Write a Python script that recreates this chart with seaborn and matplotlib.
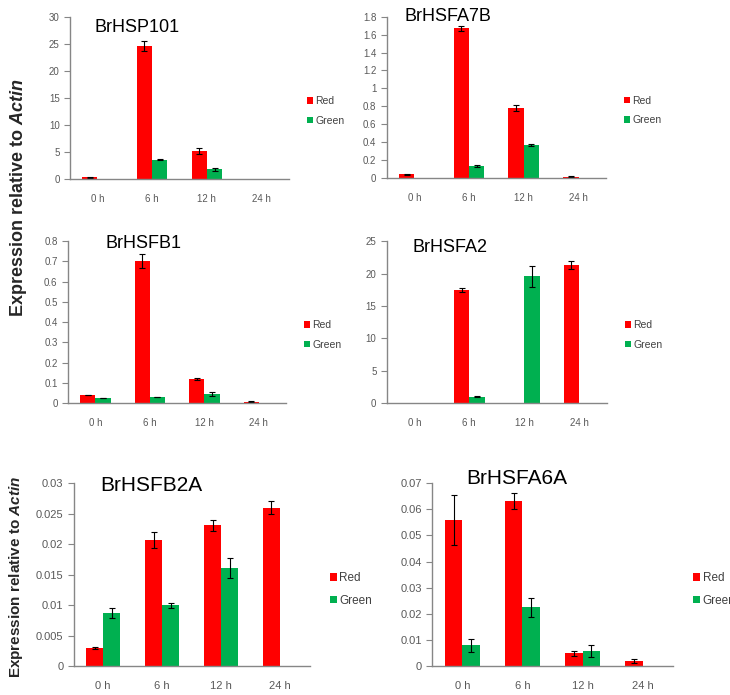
import numpy as np
import pandas as pd
import matplotlib
matplotlib.use("Agg")
import matplotlib.pyplot as plt
from matplotlib.ticker import FuncFormatter, MultipleLocator
import seaborn as sns

# ---------------- data ----------------
times = ["0 h", "6 h", "12 h", "24 h"]
series = ["Red", "Green"]

hsp101_red = [0.3, 24.7, 5.2, 0.0]
hsp101_red_err = [0.05, 0.9, 0.5, 0.0]
hsp101_green = [0.0, 3.6, 1.8, 0.0]
hsp101_green_err = [0.0, 0.1, 0.3, 0.0]

hsfa7b_red = [0.04, 1.67, 0.78, 0.015]
hsfa7b_red_err = [0.003, 0.03, 0.03, 0.004]
hsfa7b_green = [0.0, 0.13, 0.37, 0.0]
hsfa7b_green_err = [0.0, 0.012, 0.01, 0.0]

hsfb1_red = [0.04, 0.70, 0.12, 0.007]
hsfb1_red_err = [0.002, 0.035, 0.006, 0.003]
hsfb1_green = [0.025, 0.03, 0.045, 0.0]
hsfb1_green_err = [0.001, 0.002, 0.01, 0.0]

hsfa2_red = [0.05, 17.5, 0.05, 21.3]
hsfa2_red_err = [0.0, 0.3, 0.0, 0.6]
hsfa2_green = [0.05, 1.0, 19.6, 0.0]
hsfa2_green_err = [0.0, 0.05, 1.6, 0.0]

hsfb2a_red = [0.003, 0.0207, 0.0231, 0.026]
hsfb2a_red_err = [0.0002, 0.0013, 0.0009, 0.0011]
hsfb2a_green = [0.0087, 0.0100, 0.0161, 0.0]
hsfb2a_green_err = [0.0008, 0.0004, 0.0017, 0.0]

hsfa6a_red = [0.056, 0.0633, 0.0048, 0.002]
hsfa6a_red_err = [0.0095, 0.003, 0.0008, 0.0008]
hsfa6a_green = [0.008, 0.0225, 0.0058, 0.0]
hsfa6a_green_err = [0.0025, 0.0037, 0.0022, 0.0]

genes = ["BrHSP101", "BrHSFA7B", "BrHSFB1", "BrHSFA2", "BrHSFB2A", "BrHSFA6A"]
y_max = [30, 1.8, 0.8, 25, 0.03, 0.07]
y_step = [5, 0.2, 0.1, 5, 0.005, 0.01]

panel_data = [
    (hsp101_red, hsp101_red_err, hsp101_green, hsp101_green_err),
    (hsfa7b_red, hsfa7b_red_err, hsfa7b_green, hsfa7b_green_err),
    (hsfb1_red, hsfb1_red_err, hsfb1_green, hsfb1_green_err),
    (hsfa2_red, hsfa2_red_err, hsfa2_green, hsfa2_green_err),
    (hsfb2a_red, hsfb2a_red_err, hsfb2a_green, hsfb2a_green_err),
    (hsfa6a_red, hsfa6a_red_err, hsfa6a_green, hsfa6a_green_err),
]

# ---------------- style ----------------
sns.set_style("white")
plt.rcParams["font.family"] = ["Liberation Sans", "DejaVu Sans"]
plt.rcParams["mathtext.fontset"] = "custom"
plt.rcParams["mathtext.bfit"] = "Liberation Sans:italic:bold"
plt.rcParams["mathtext.it"] = "Liberation Sans:italic:bold"

palette = {"Red": "#FF0000", "Green": "#00B050"}

fig = plt.figure(figsize=(7.3, 6.95), dpi=100)

# [left, bottom, width, height] in figure fraction
positions = [
    [0.0959, 0.7424, 0.300, 0.233],
    [0.530, 0.744, 0.300, 0.232],
    [0.0932, 0.420, 0.2986, 0.233],
    [0.530, 0.420, 0.301, 0.233],
    [0.101, 0.0417, 0.323, 0.263],
    [0.592, 0.0417, 0.330, 0.263],
]
title_pos = [(0.114, 0.99), (0.082, 1.056), (0.17, 1.037), (0.118, 1.012), (0.114, 1.038), (0.141, 1.076)]
title_size = [13, 13, 13, 13, 15, 15]
tick_size = [7, 7, 7, 7, 8, 8]
bar_width = [0.56, 0.56, 0.56, 0.56, 0.58, 0.58]

gray = "#595959"

for i, gene in enumerate(genes):
    red, red_err, green, green_err = panel_data[i]
    df = pd.DataFrame({
        "time": times * 2,
        "series": ["Red"] * 4 + ["Green"] * 4,
        "value": list(red) + list(green),
        "err": list(red_err) + list(green_err),
    })
    ax = fig.add_axes(positions[i])
    sns.barplot(data=df, x="time", y="value", hue="series", hue_order=series,
                order=times, palette=palette, errorbar=None, width=bar_width[i],
                saturation=1, linewidth=0, ax=ax)
    # error bars at the bar positions
    for cont, s in zip(ax.containers, series):
        errs = df[df["series"] == s]["err"].to_numpy()
        for patch, e in zip(cont.patches, errs):
            if e > 0:
                xc = patch.get_x() + patch.get_width() / 2
                ax.errorbar(xc, patch.get_height(), yerr=e, fmt="none",
                            ecolor="black", elinewidth=0.8, capsize=2.5, capthick=0.8)
    ax.set_xlim(-0.5, 3.5)
    ax.set_ylim(0, y_max[i])
    ax.yaxis.set_major_locator(MultipleLocator(y_step[i]))
    ax.yaxis.set_major_formatter(FuncFormatter(lambda v, p: "{:g}".format(round(v, 6))))
    ax.set_xlabel("")
    ax.set_ylabel("")
    for sp in ["top", "right"]:
        ax.spines[sp].set_visible(False)
    for sp in ["left", "bottom"]:
        ax.spines[sp].set_color("#868686")
        ax.spines[sp].set_linewidth(1.0)
    ax.tick_params(axis="x", which="major", length=0, labelsize=tick_size[i], labelcolor=gray, pad=11)
    ax.set_xticks([-0.5, 0.5, 1.5, 2.5, 3.5], minor=True)
    ax.tick_params(axis="x", which="minor", length=4, color="#868686", direction="out")
    ax.tick_params(axis="y", length=4, color="#868686", direction="out", labelsize=tick_size[i], labelcolor=gray, left=True)
    ax.text(title_pos[i][0], title_pos[i][1], gene, transform=ax.transAxes,
            ha="left", va="top", fontsize=title_size[i], color="black")
    sns.move_legend(ax, loc="center left", bbox_to_anchor=(1.04, 0.42), frameon=False,
                    title=None, handlelength=0.6, handleheight=0.6, handletextpad=0.2,
                    labelspacing=0.9, fontsize=tick_size[i] + 0.5, labelcolor="#404040")

fig.text(0.025, 0.716, r"Expression relative to $\mathbfit{Actin}$", rotation=90,
         ha="center", va="center", fontsize=13, fontweight="bold")
fig.text(0.022, 0.17, r"Expression relative to $\mathbfit{Actin}$", rotation=90,
         ha="center", va="center", fontsize=11, fontweight="bold")

fig.savefig("out.png", dpi=100, facecolor="white")
